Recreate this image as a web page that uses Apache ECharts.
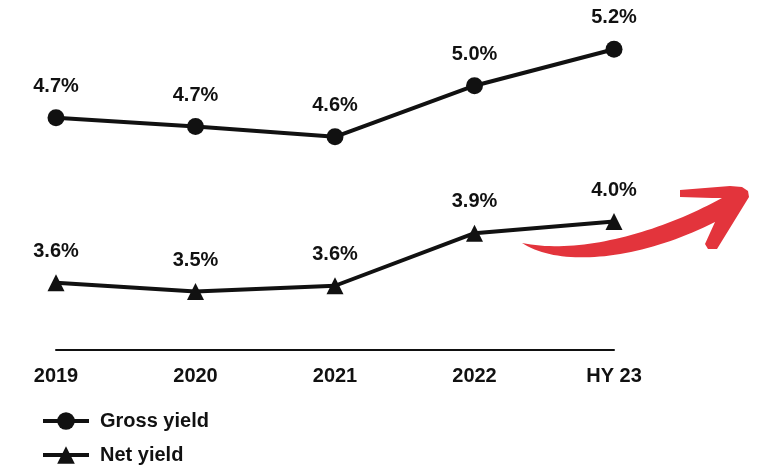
<!DOCTYPE html>
<html>
<head>
<meta charset="utf-8">
<script src="https://cdn.jsdelivr.net/npm/echarts@6/dist/echarts.min.js"></script>
<style>html,body{margin:0;padding:0;background:#fff}#c{width:762px;height:470px}</style>
</head>
<body>
<div id="c"></div>
<script>
const categories = ['2019', '2020', '2021', '2022', 'HY 23'];
const grossYield = [4.73, 4.67, 4.60, 4.95, 5.20];
const netYield = [3.60, 3.54, 3.58, 3.94, 4.02];
const seriesNames = ['Gross yield', 'Net yield'];

const FONT = '"Liberation Sans", Arial, sans-serif';
const INK = '#111111';

const chart = echarts.init(document.getElementById('c'), null, {renderer: 'canvas'});

function labelCfg() {
  return {
    show: true,
    position: 'top',
    distance: 13,
    formatter: p => p.value.toFixed(1) + '%',
    fontFamily: FONT,
    fontSize: 20,
    fontWeight: 'bold',
    color: INK
  };
}

// decorative arrow outline (cubic bezier sampled into polygon)
function cubic(p0, p1, p2, p3, n) {
  const pts = [];
  for (let i = 0; i <= n; i++) {
    const t = i / n, u = 1 - t;
    pts.push([
      u*u*u*p0[0] + 3*u*u*t*p1[0] + 3*u*t*t*p2[0] + t*t*t*p3[0],
      u*u*u*p0[1] + 3*u*u*t*p1[1] + 3*u*t*t*p2[1] + t*t*t*p3[1]
    ]);
  }
  return pts;
}
const arrowPts = [].concat(
  cubic([522, 243], [560, 268], [640, 260], [715, 222], 40),
  [[705, 244], [708, 249], [717, 249], [749, 197], [748, 191], [742, 187], [730, 186], [680, 190], [680, 197], [712, 198]],
  cubic([722, 198], [660, 232], [580, 255], [522, 243], 40)
);

chart.setOption({
  animation: false,
  backgroundColor: '#ffffff',
  grid: {left: 56, right: 148, top: 20, bottom: 120, containLabel: false},
  xAxis: {
    type: 'category',
    data: categories,
    boundaryGap: false,
    axisLine: {show: true, lineStyle: {color: INK, width: 2}},
    axisTick: {show: false},
    axisLabel: {fontFamily: FONT, fontSize: 20, fontWeight: 'bold', color: INK, margin: 16}
  },
  yAxis: {
    type: 'value',
    min: 3.14,
    max: 5.4,
    show: false,
    splitLine: {show: false}
  },
  legend: {
    orient: 'vertical',
    left: 41,
    top: 411,
    padding: 0,
    itemWidth: 46,
    itemHeight: 22,
    itemGap: 14,
    lineStyle: {width: 4},
    textStyle: {fontFamily: FONT, fontSize: 20, fontWeight: 'bold', color: INK, padding: [0, 0, 0, 6]},
    data: seriesNames
  },
  series: [
    {
      name: seriesNames[0],
      type: 'line',
      data: grossYield,
      symbol: 'circle',
      symbolSize: 17,
      itemStyle: {color: INK},
      lineStyle: {color: INK, width: 4},
      label: labelCfg()
    },
    {
      name: seriesNames[1],
      type: 'line',
      data: netYield,
      symbol: 'triangle',
      symbolSize: 17,
      itemStyle: {color: INK},
      lineStyle: {color: INK, width: 4},
      label: labelCfg()
    }
  ],
  graphic: [
    {
      type: 'polygon',
      z: 100,
      shape: {points: arrowPts},
      style: {fill: '#E3343C'}
    }
  ]
});
</script>
</body>
</html>
